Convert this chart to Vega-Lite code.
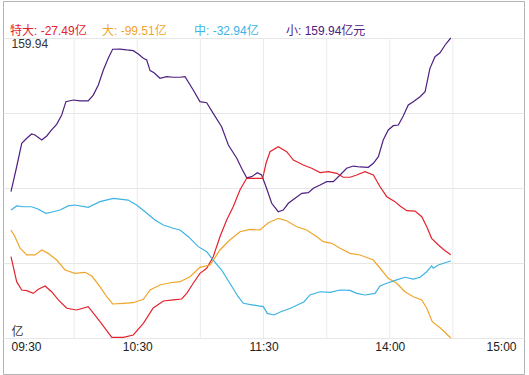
{
  "$schema": "https://vega.github.io/schema/vega-lite/v6.json",
  "width": 521,
  "height": 373,
  "autosize": {"type": "none"},
  "padding": {"left": 3, "top": 1, "right": 5, "bottom": 1},
  "background": "white",
  "config": {
    "view": {"stroke": "#b4b4b4", "strokeWidth": 1},
    "font": "Liberation Sans, Noto Sans CJK SC, sans-serif"
  },
  "encoding": {
    "x": {
      "field": "t",
      "type": "quantitative",
      "scale": {"domain": [-3.8, 243.8], "nice": false, "zero": false},
      "axis": {
        "values": [0, 60, 120, 180, 240],
        "labelExpr": "datum.value == 0 ? '09:30' : datum.value == 60 ? '10:30' : datum.value == 120 ? '11:30' : datum.value == 180 ? '14:00' : '15:00'",
        "title": null,
        "grid": false,
        "domain": false,
        "ticks": false,
        "tickSize": 0,
        "offset": -36,
        "labelPadding": 3,
        "labelFlush": 12,
        "labelOverlap": false,
        "labelFontSize": 12,
        "labelColor": "#222222"
      }
    }
  },
  "layer": [
    {
      "data": {"values": [{"t": 30}, {"t": 60}, {"t": 90}, {"t": 120}, {"t": 150}, {"t": 180}, {"t": 210}]},
      "mark": {"type": "rule", "color": "#ebebeb", "strokeWidth": 1},
      "encoding": {
        "y": {
          "datum": 159.94,
          "type": "quantitative",
          "scale": {"domain": [-130.644, 191.94], "nice": false, "zero": false},
          "axis": {
            "values": [-99.51, -34.6475, 30.215, 95.0775, 159.94],
            "labelExpr": "datum.value > 159 ? '159.94' : datum.value < -99 ? '亿' : ''",
            "title": null,
            "grid": true,
            "gridColor": "#e6e6e6",
            "domain": false,
            "ticks": false,
            "tickSize": 0,
            "offset": -8,
            "labelPadding": 0,
            "labelAlign": "left",
            "labelFlush": 40,
            "labelOverlap": false,
            "labelFontSize": 12,
            "labelColor": "#333333"
          }
        },
        "y2": {"datum": -99.51}
      }
    },
    {
      "data": {"values": [
        {"s":"小","t":0,"v":27.0},{"s":"小","t":2.7,"v":48.6},{"s":"小","t":5.1,"v":68.9},{"s":"小","t":7.5,"v":73.2},{"s":"小","t":9.8,"v":76.9},{"s":"小","t":11.4,"v":76.1},{"s":"小","t":14.6,"v":71.7},{"s":"小","t":17.0,"v":75.2},{"s":"小","t":19.3,"v":80.4},{"s":"小","t":21.7,"v":85.3},{"s":"小","t":24.1,"v":93.4},{"s":"小","t":26.1,"v":104.9},{"s":"小","t":29.6,"v":106.3},{"s":"小","t":32.8,"v":105.5},{"s":"小","t":36.7,"v":105.5},{"s":"小","t":39.1,"v":110.6},{"s":"小","t":41.5,"v":119.3},{"s":"小","t":43.9,"v":132.3},{"s":"小","t":46.2,"v":142.4},{"s":"小","t":48.3,"v":150.2},{"s":"小","t":51.8,"v":150.4},{"s":"小","t":55.0,"v":149.6},{"s":"小","t":58.1,"v":149.0},{"s":"小","t":60.5,"v":146.1},{"s":"小","t":62.9,"v":142.4},{"s":"小","t":64.5,"v":140.9},{"s":"小","t":66.1,"v":131.7},{"s":"小","t":68.0,"v":129.9},{"s":"小","t":70.8,"v":125.1},{"s":"小","t":74.0,"v":126.5},{"s":"小","t":77.1,"v":126.0},{"s":"小","t":80.3,"v":126.0},{"s":"小","t":82.7,"v":126.5},{"s":"小","t":86.6,"v":115.0},{"s":"小","t":89.8,"v":104.9},{"s":"小","t":93.0,"v":104.0},{"s":"小","t":96.1,"v":94.8},{"s":"小","t":100.1,"v":83.2},{"s":"小","t":103.3,"v":67.4},{"s":"小","t":107.3,"v":55.9},{"s":"小","t":109.6,"v":47.3},{"s":"小","t":112.0,"v":39.1},{"s":"小","t":114.4,"v":40.0},{"s":"小","t":117.1,"v":43.5},{"s":"小","t":119.1,"v":41.5},{"s":"小","t":121.2,"v":31.3},{"s":"小","t":123.9,"v":17.0},{"s":"小","t":127.0,"v":9.7},{"s":"小","t":129.4,"v":11.2},{"s":"小","t":131.8,"v":17.0},{"s":"小","t":135.0,"v":21.3},{"s":"小","t":138.2,"v":25.6},{"s":"小","t":141.3,"v":26.2},{"s":"小","t":143.7,"v":30.0},{"s":"小","t":146.9,"v":32.8},{"s":"小","t":150.0,"v":35.7},{"s":"小","t":153.2,"v":35.7},{"s":"小","t":156.4,"v":41.5},{"s":"小","t":159.5,"v":47.3},{"s":"小","t":162.7,"v":49.2},{"s":"小","t":165.9,"v":48.4},{"s":"小","t":169.8,"v":48.1},{"s":"小","t":172.2,"v":51.6},{"s":"小","t":174.6,"v":57.3},{"s":"小","t":176.9,"v":71.7},{"s":"小","t":179.3,"v":80.4},{"s":"小","t":181.7,"v":84.1},{"s":"小","t":184.1,"v":84.7},{"s":"小","t":186.4,"v":92.5},{"s":"小","t":188.8,"v":102.0},{"s":"小","t":191.2,"v":104.9},{"s":"小","t":194.4,"v":109.2},{"s":"小","t":196.8,"v":113.5},{"s":"小","t":199.1,"v":133.7},{"s":"小","t":201.5,"v":143.8},{"s":"小","t":203.9,"v":147.2},{"s":"小","t":206.3,"v":153.9},{"s":"小","t":209,"v":159.94},

        {"s":"特大","t":0,"v":-29.2},{"s":"特大","t":2.7,"v":-50.8},{"s":"特大","t":5.1,"v":-58.0},{"s":"特大","t":7.5,"v":-58.6},{"s":"特大","t":10.6,"v":-60.9},{"s":"特大","t":13.0,"v":-57.4},{"s":"特大","t":16.2,"v":-54.5},{"s":"特大","t":19.3,"v":-59.5},{"s":"特大","t":22.5,"v":-66.6},{"s":"特大","t":26.5,"v":-73.8},{"s":"特大","t":31.2,"v":-75.3},{"s":"特大","t":36.7,"v":-72.4},{"s":"特大","t":42.3,"v":-85.4},{"s":"特大","t":47.9,"v":-98.9},{"s":"特大","t":53.4,"v":-98.9},{"s":"特大","t":58.1,"v":-96.9},{"s":"特大","t":62.9,"v":-86.8},{"s":"特大","t":67.6,"v":-73.6},{"s":"特大","t":72.4,"v":-67.5},{"s":"特大","t":77.1,"v":-66.6},{"s":"特大","t":81.1,"v":-65.8},{"s":"特大","t":83.5,"v":-60.9},{"s":"特大","t":86.6,"v":-52.2},{"s":"特大","t":89.8,"v":-43.6},{"s":"特大","t":93.0,"v":-39.2},{"s":"特大","t":96.1,"v":-29.2},{"s":"特大","t":99.3,"v":-11.9},{"s":"特大","t":102.5,"v":2.5},{"s":"特大","t":105.6,"v":14.0},{"s":"特大","t":108.8,"v":28.5},{"s":"特大","t":112.0,"v":38.6},{"s":"特大","t":115.2,"v":38.6},{"s":"特大","t":119.6,"v":38.6},{"s":"特大","t":121.2,"v":51.6},{"s":"特大","t":123.1,"v":61.6},{"s":"特大","t":127.0,"v":65.9},{"s":"特大","t":131.0,"v":61.6},{"s":"特大","t":134.2,"v":54.4},{"s":"特大","t":138.9,"v":50.1},{"s":"特大","t":142.9,"v":47.3},{"s":"特大","t":146.9,"v":43.5},{"s":"特大","t":150.8,"v":44.3},{"s":"特大","t":154.8,"v":42.9},{"s":"特大","t":157.9,"v":39.5},{"s":"特大","t":161.1,"v":39.5},{"s":"特大","t":164.3,"v":41.5},{"s":"特大","t":168.2,"v":44.3},{"s":"特大","t":172.2,"v":41.5},{"s":"特大","t":175.4,"v":31.3},{"s":"特大","t":178.6,"v":22.7},{"s":"特大","t":182.5,"v":18.4},{"s":"特大","t":184.9,"v":14.7},{"s":"特大","t":188.1,"v":10.6},{"s":"特大","t":192.0,"v":10.3},{"s":"特大","t":195.2,"v":5.4},{"s":"特大","t":197.6,"v":-3.3},{"s":"特大","t":199.9,"v":-13.3},{"s":"特大","t":203.1,"v":-19.1},{"s":"特大","t":206.3,"v":-24.0},{"s":"特大","t":209,"v":-27.49},

        {"s":"大","t":0,"v":-6.1},{"s":"大","t":1.9,"v":-11.9},{"s":"大","t":4.3,"v":-21.9},{"s":"大","t":7.5,"v":-27.7},{"s":"大","t":11.4,"v":-27.7},{"s":"大","t":14.6,"v":-23.4},{"s":"大","t":17.7,"v":-26.3},{"s":"大","t":21.7,"v":-32.1},{"s":"大","t":25.7,"v":-40.7},{"s":"大","t":30.4,"v":-43.6},{"s":"大","t":35.2,"v":-42.7},{"s":"大","t":38.4,"v":-45.9},{"s":"大","t":42.3,"v":-55.1},{"s":"大","t":45.5,"v":-63.8},{"s":"大","t":48.3,"v":-70.1},{"s":"大","t":53.4,"v":-69.5},{"s":"大","t":58.1,"v":-69.0},{"s":"大","t":62.9,"v":-66.0},{"s":"大","t":66.1,"v":-58.0},{"s":"大","t":70.8,"v":-53.7},{"s":"大","t":75.6,"v":-51.7},{"s":"大","t":80.3,"v":-50.8},{"s":"大","t":85.1,"v":-46.5},{"s":"大","t":89.8,"v":-38.4},{"s":"大","t":94.6,"v":-36.4},{"s":"大","t":99.3,"v":-23.4},{"s":"大","t":104.0,"v":-14.8},{"s":"大","t":108.8,"v":-7.6},{"s":"大","t":113.5,"v":-5.5},{"s":"大","t":118.3,"v":-6.1},{"s":"大","t":122.3,"v":0.2},{"s":"大","t":127.0,"v":4.0},{"s":"大","t":131.0,"v":1.9},{"s":"大","t":135.8,"v":-3.3},{"s":"大","t":140.5,"v":-6.1},{"s":"大","t":145.3,"v":-11.9},{"s":"大","t":148.4,"v":-16.2},{"s":"大","t":152.4,"v":-17.6},{"s":"大","t":156.4,"v":-21.9},{"s":"大","t":161.1,"v":-26.3},{"s":"大","t":165.9,"v":-27.7},{"s":"大","t":172.2,"v":-32.1},{"s":"大","t":176.1,"v":-40.7},{"s":"大","t":179.3,"v":-47.9},{"s":"大","t":183.3,"v":-52.2},{"s":"大","t":187.2,"v":-59.5},{"s":"大","t":191.2,"v":-63.8},{"s":"大","t":195.2,"v":-66.6},{"s":"大","t":197.6,"v":-73.8},{"s":"大","t":200.2,"v":-85.4},{"s":"大","t":204.2,"v":-91.1},{"s":"大","t":209,"v":-99.51},

        {"s":"中","t":0,"v":11.2},{"s":"中","t":2.7,"v":14.7},{"s":"中","t":5.8,"v":14.0},{"s":"中","t":9.8,"v":14.0},{"s":"中","t":13.0,"v":11.8},{"s":"中","t":16.6,"v":8.3},{"s":"中","t":20.1,"v":9.7},{"s":"中","t":23.3,"v":11.2},{"s":"中","t":27.2,"v":14.7},{"s":"中","t":30.4,"v":15.5},{"s":"中","t":36.7,"v":13.5},{"s":"中","t":42.3,"v":18.4},{"s":"中","t":48.6,"v":21.3},{"s":"中","t":55.7,"v":19.8},{"s":"中","t":59.7,"v":15.5},{"s":"中","t":63.7,"v":9.7},{"s":"中","t":68.4,"v":2.5},{"s":"中","t":72.4,"v":-1.8},{"s":"中","t":77.1,"v":-4.6},{"s":"中","t":80.3,"v":-6.1},{"s":"中","t":84.3,"v":-11.9},{"s":"中","t":89.0,"v":-20.5},{"s":"中","t":93.0,"v":-24.9},{"s":"中","t":96.1,"v":-32.1},{"s":"中","t":100.1,"v":-40.7},{"s":"中","t":104.0,"v":-52.2},{"s":"中","t":108.0,"v":-63.8},{"s":"中","t":110.4,"v":-69.5},{"s":"中","t":115.2,"v":-71.0},{"s":"中","t":119.9,"v":-72.4},{"s":"中","t":121.8,"v":-78.2},{"s":"中","t":125.0,"v":-79.6},{"s":"中","t":128.2,"v":-76.8},{"s":"中","t":132.9,"v":-73.8},{"s":"中","t":136.1,"v":-71.0},{"s":"中","t":139.3,"v":-68.1},{"s":"中","t":142.1,"v":-62.3},{"s":"中","t":146.9,"v":-59.5},{"s":"中","t":151.6,"v":-60.0},{"s":"中","t":156.4,"v":-58.0},{"s":"中","t":161.1,"v":-58.4},{"s":"中","t":164.3,"v":-60.9},{"s":"中","t":168.2,"v":-62.3},{"s":"中","t":173.0,"v":-60.9},{"s":"中","t":175.4,"v":-54.5},{"s":"中","t":178.6,"v":-52.2},{"s":"中","t":183.3,"v":-49.3},{"s":"中","t":187.2,"v":-47.0},{"s":"中","t":191.2,"v":-48.5},{"s":"中","t":194.4,"v":-47.0},{"s":"中","t":197.6,"v":-42.2},{"s":"中","t":199.9,"v":-37.2},{"s":"中","t":200.7,"v":-39.2},{"s":"中","t":203.1,"v":-36.4},{"s":"中","t":206.3,"v":-34.4},{"s":"中","t":209,"v":-32.94}
      ]},
      "mark": {"type": "line", "strokeWidth": 1.2},
      "encoding": {
        "y": {
          "field": "v",
          "type": "quantitative",
          "scale": {"domain": [-130.644, 191.94], "nice": false, "zero": false},
          "axis": {
            "values": [-99.51, -34.6475, 30.215, 95.0775, 159.94],
            "labelExpr": "datum.value > 159 ? '159.94' : datum.value < -99 ? '亿' : ''",
            "title": null,
            "grid": true,
            "gridColor": "#e6e6e6",
            "domain": false,
            "ticks": false,
            "tickSize": 0,
            "offset": -8,
            "labelPadding": 0,
            "labelAlign": "left",
            "labelFlush": 40,
            "labelOverlap": false,
            "labelFontSize": 12,
            "labelColor": "#333333"
          }
        },
        "color": {
          "field": "s",
          "type": "nominal",
          "scale": {"domain": ["特大", "大", "中", "小"], "range": ["#e4232c", "#f0a52a", "#3db3e3", "#4e2080"]},
          "legend": {
            "orient": "none",
            "legendX": -5,
            "legendY": 24,
            "direction": "horizontal",
            "columns": 4,
            "gridAlign": "all",
            "columnPadding": 0,
            "symbolSize": 0,
            "symbolOpacity": 0,
            "symbolStrokeWidth": 0,
            "labelOffset": 0,
            "labelFontSize": 12,
            "labelLimit": 200,
            "title": null,
            "labelColor": {"expr": "scale('color', datum.value)"},
            "labelExpr": "datum.label == '特大' ? '特大: -27.49亿' : datum.label == '大' ? '大: -99.51亿' : datum.label == '中' ? '中: -32.94亿' : '小: 159.94亿元'"
          }
        }
      }
    }
  ]
}
